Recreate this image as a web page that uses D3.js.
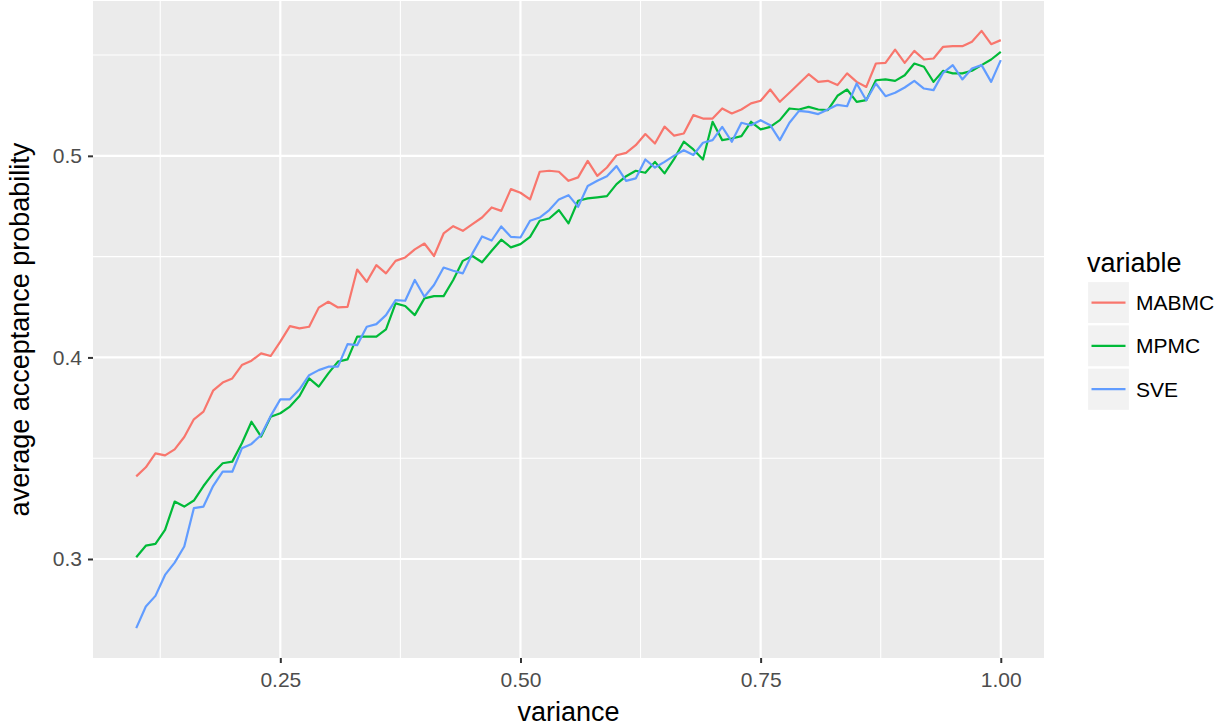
<!DOCTYPE html>
<html>
<head>
<meta charset="utf-8">
<script src="https://cdn.jsdelivr.net/npm/d3@7"></script>
<style>
  body { margin: 0; background: #fff; }
  text { font-family: "Liberation Sans", Arial, Helvetica, sans-serif; }
</style>
</head>
<body>
<div id="container"></div>
<script>
/* CONSTANTS AND GLOBALS */
const width = 1223,
  height = 728,
  margin = { top: 1, bottom: 70, left: 93, right: 179 };

/* DATA */
const variance = [
  0.10, 0.11, 0.12, 0.13, 0.14, 0.15, 0.16, 0.17, 0.18, 0.19,
  0.20, 0.21, 0.22, 0.23, 0.24, 0.25, 0.26, 0.27, 0.28, 0.29,
  0.30, 0.31, 0.32, 0.33, 0.34, 0.35, 0.36, 0.37, 0.38, 0.39,
  0.40, 0.41, 0.42, 0.43, 0.44, 0.45, 0.46, 0.47, 0.48, 0.49,
  0.50, 0.51, 0.52, 0.53, 0.54, 0.55, 0.56, 0.57, 0.58, 0.59,
  0.60, 0.61, 0.62, 0.63, 0.64, 0.65, 0.66, 0.67, 0.68, 0.69,
  0.70, 0.71, 0.72, 0.73, 0.74, 0.75, 0.76, 0.77, 0.78, 0.79,
  0.80, 0.81, 0.82, 0.83, 0.84, 0.85, 0.86, 0.87, 0.88, 0.89,
  0.90, 0.91, 0.92, 0.93, 0.94, 0.95, 0.96, 0.97, 0.98, 0.99,
  1.00
];

const mabmc = [
  0.3410, 0.3455, 0.3524, 0.3514, 0.3544, 0.3605, 0.3693, 0.3731, 0.3835, 0.3875,
  0.3896, 0.3962, 0.3984, 0.4020, 0.4007, 0.4078, 0.4155, 0.4144, 0.4152, 0.4247,
  0.4276, 0.4248, 0.4251, 0.4436, 0.4375, 0.4458, 0.4417, 0.4479, 0.4496, 0.4536,
  0.4565, 0.4503, 0.4615, 0.4651, 0.4628, 0.4661, 0.4694, 0.4744, 0.4727, 0.4835,
  0.4817, 0.4784, 0.4921, 0.4926, 0.4921, 0.4876, 0.4893, 0.4975, 0.4901, 0.4942,
  0.5003, 0.5015, 0.5053, 0.5108, 0.5061, 0.5145, 0.5100, 0.5111, 0.5202, 0.5185,
  0.5185, 0.5235, 0.5210, 0.5230, 0.5260, 0.5273, 0.5329, 0.5268, 0.5313, 0.5359,
  0.5405, 0.5367, 0.5372, 0.5351, 0.5409, 0.5367, 0.5342, 0.5458, 0.5461, 0.5527,
  0.5461, 0.5521, 0.5478, 0.5483, 0.5541, 0.5544, 0.5544, 0.5566, 0.5620, 0.5554,
  0.5574
];

const mpmc = [
  0.3009, 0.3066, 0.3075, 0.3144, 0.3285, 0.3260, 0.3290, 0.3362, 0.3425, 0.3475,
  0.3483, 0.3574, 0.3681, 0.3607, 0.3706, 0.3723, 0.3756, 0.3809, 0.3896, 0.3855,
  0.3921, 0.3979, 0.3990, 0.4103, 0.4103, 0.4103, 0.4139, 0.4268, 0.4255, 0.4210,
  0.4293, 0.4304, 0.4304, 0.4384, 0.4479, 0.4503, 0.4472, 0.4529, 0.4584, 0.4546,
  0.4562, 0.4598, 0.4678, 0.4689, 0.4731, 0.4665, 0.4777, 0.4789, 0.4794, 0.4800,
  0.4860, 0.4899, 0.4926, 0.4916, 0.4970, 0.4913, 0.4985, 0.5070, 0.5032, 0.4982,
  0.5169, 0.5078, 0.5086, 0.5098, 0.5169, 0.5131, 0.5144, 0.5177, 0.5235, 0.5230,
  0.5243, 0.5230, 0.5227, 0.5298, 0.5329, 0.5268, 0.5276, 0.5375, 0.5379, 0.5372,
  0.5400, 0.5458, 0.5442, 0.5367, 0.5422, 0.5409, 0.5409, 0.5422, 0.5450, 0.5478,
  0.5516
];

const sve = [
  0.2657, 0.2764, 0.2817, 0.2921, 0.2982, 0.3062, 0.3252, 0.3260, 0.3362, 0.3433,
  0.3433, 0.3549, 0.3571, 0.3615, 0.3710, 0.3792, 0.3792, 0.3842, 0.3912, 0.3937,
  0.3954, 0.3954, 0.4066, 0.4061, 0.4152, 0.4165, 0.4210, 0.4284, 0.4281, 0.4384,
  0.4301, 0.4359, 0.4446, 0.4430, 0.4417, 0.4516, 0.4600, 0.4580, 0.4650, 0.4598,
  0.4595, 0.4678, 0.4694, 0.4731, 0.4784, 0.4805, 0.4747, 0.4850, 0.4876, 0.4899,
  0.4949, 0.4876, 0.4888, 0.4982, 0.4942, 0.4970, 0.5001, 0.5028, 0.5004, 0.5065,
  0.5078, 0.5144, 0.5070, 0.5164, 0.5152, 0.5177, 0.5152, 0.5078, 0.5164, 0.5223,
  0.5218, 0.5207, 0.5230, 0.5253, 0.5246, 0.5359, 0.5276, 0.5359, 0.5296, 0.5313,
  0.5339, 0.5372, 0.5334, 0.5326, 0.5412, 0.5450, 0.5379, 0.5433, 0.5450, 0.5367,
  0.5475
];

const seriesNames = ["MABMC", "MPMC", "SVE"];
const seriesColors = ["#F8766D", "#00BA38", "#619CFF"];
const xTicks = [0.25, 0.50, 0.75, 1.00];
const xMinor = [0.125, 0.375, 0.625, 0.875];
const yTicks = [0.3, 0.4, 0.5];
const yMinor = [0.35, 0.45, 0.55];

// long format, one array per series
const series = [mabmc, mpmc, sve].map((vals, i) => ({
  name: seriesNames[i],
  values: vals.map((v, j) => ({ x: variance[j], y: v }))
}));

// ggplot-like 5% expansion
function expand(ext) {
  const pad = (ext[1] - ext[0]) * 0.05;
  return [ext[0] - pad, ext[1] + pad];
}

const panelRight = width - margin.right,
  panelBottom = height - margin.bottom;

const xScale = d3.scaleLinear()
  .domain(expand(d3.extent(variance)))
  .range([margin.left, panelRight]);

const yScale = d3.scaleLinear()
  .domain(expand(d3.extent([].concat(mabmc, mpmc, sve))))
  .range([panelBottom, margin.top]);

const color = d3.scaleOrdinal().domain(seriesNames).range(seriesColors);

const svg = d3.select("#container")
  .append("svg")
  .attr("width", width)
  .attr("height", height);

// panel background
svg.append("rect")
  .attr("x", margin.left)
  .attr("y", margin.top)
  .attr("width", panelRight - margin.left)
  .attr("height", panelBottom - margin.top)
  .attr("fill", "#EBEBEB");

// gridlines: minor first, then major
svg.append("g").selectAll("line")
  .data(xMinor)
  .join("line")
  .attr("x1", d => xScale(d)).attr("x2", d => xScale(d))
  .attr("y1", margin.top).attr("y2", panelBottom)
  .attr("stroke", "#fff").attr("stroke-width", 1.1);

svg.append("g").selectAll("line")
  .data(yMinor)
  .join("line")
  .attr("y1", d => yScale(d)).attr("y2", d => yScale(d))
  .attr("x1", margin.left).attr("x2", panelRight)
  .attr("stroke", "#fff").attr("stroke-width", 1.1);

svg.append("g").selectAll("line")
  .data(xTicks)
  .join("line")
  .attr("x1", d => xScale(d)).attr("x2", d => xScale(d))
  .attr("y1", margin.top).attr("y2", panelBottom)
  .attr("stroke", "#fff").attr("stroke-width", 2.2);

svg.append("g").selectAll("line")
  .data(yTicks)
  .join("line")
  .attr("y1", d => yScale(d)).attr("y2", d => yScale(d))
  .attr("x1", margin.left).attr("x2", panelRight)
  .attr("stroke", "#fff").attr("stroke-width", 2.2);

// + AXES
const xAxis = d3.axisBottom(xScale)
  .tickValues(xTicks)
  .tickFormat(d3.format(".2f"))
  .tickSize(5)
  .tickPadding(9);

const yAxis = d3.axisLeft(yScale)
  .tickValues(yTicks)
  .tickFormat(d3.format(".1f"))
  .tickSize(5)
  .tickPadding(6);

const xAxisGroup = svg.append("g")
  .attr("transform", `translate(0, ${panelBottom})`)
  .call(xAxis);

const yAxisGroup = svg.append("g")
  .attr("transform", `translate(${margin.left}, 0)`)
  .call(yAxis);

[xAxisGroup, yAxisGroup].forEach(g => {
  g.select(".domain").remove();
  g.selectAll(".tick line").attr("stroke", "#333333").attr("stroke-width", 2);
  g.selectAll(".tick text")
    .attr("fill", "#4D4D4D")
    .style("font-size", "21px")
    .style("font-family", "'Liberation Sans', Arial, Helvetica, sans-serif");
});

// axis titles
svg.append("text")
  .attr("x", (margin.left + panelRight) / 2)
  .attr("y", 721)
  .attr("text-anchor", "middle")
  .style("font-size", "27px")
  .text("variance");

svg.append("text")
  .attr("transform", `translate(${29}, ${(margin.top + panelBottom) / 2}) rotate(-90)`)
  .attr("text-anchor", "middle")
  .style("font-size", "27px")
  .text("average acceptance probability");

// + DRAW LINES
const lineGen = d3.line()
  .x(d => xScale(d.x))
  .y(d => yScale(d.y));

svg.selectAll(".line")
  .data(series)
  .join("path")
  .attr("class", "line")
  .attr("fill", "none")
  .attr("stroke", d => color(d.name))
  .attr("stroke-width", 2.2)
  .attr("stroke-linejoin", "round")
  .attr("d", d => lineGen(d.values));

// + LEGEND
const legend = svg.append("g")
  .attr("transform", `translate(${1087}, ${0})`);

legend.append("text")
  .attr("x", 0)
  .attr("y", 272)
  .style("font-size", "27px")
  .text("variable");

const keys = legend.selectAll(".key")
  .data(seriesNames)
  .join("g")
  .attr("class", "key")
  .attr("transform", (d, i) => `translate(0, ${281 + i * 43.3})`);

keys.append("rect")
  .attr("x", 0)
  .attr("y", 0)
  .attr("width", 43)
  .attr("height", 43.3)
  .attr("fill", "#F2F2F2")
  .attr("stroke", "#fff")
  .attr("stroke-width", 2.2);

keys.append("line")
  .attr("x1", 4.5).attr("x2", 38.5)
  .attr("y1", 21.6).attr("y2", 21.6)
  .attr("stroke", d => color(d))
  .attr("stroke-width", 2.2);

keys.append("text")
  .attr("x", 49)
  .attr("y", 29)
  .style("font-size", "21px")
  .text(d => d);
</script>
</body>
</html>
